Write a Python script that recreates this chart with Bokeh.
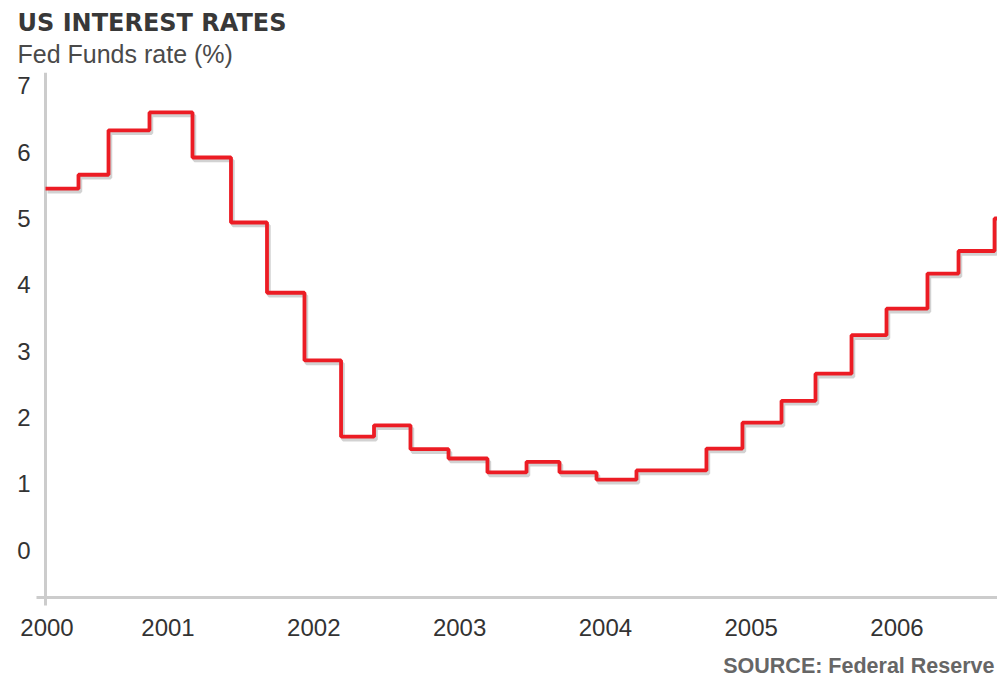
from bokeh.plotting import figure
from bokeh.models import Title, Range1d
from bokeh.core.properties import value
from bokeh.embed import file_html
from bokeh.resources import INLINE

# ---- data ----
title = "US INTEREST RATES"
subtitle = "Fed Funds rate (%)"
source = "SOURCE: Federal Reserve"

# start of each rate step, in fractional years
step_start = [2000.160, 2000.386, 2000.592, 2000.873, 2001.168, 2001.432, 2001.679,
              2001.936, 2002.187, 2002.413, 2002.663, 2002.924, 2003.191, 2003.459,
              2003.685, 2003.939, 2004.213, 2004.693, 2004.940, 2005.208, 2005.441,
              2005.688, 2005.928, 2006.209, 2006.422, 2006.669, 2006.689]
# Fed funds rate (%) holding from each step start
rate = [5.45, 5.66, 6.33, 6.60, 5.92, 4.94, 3.88, 2.86, 1.71, 1.88, 1.52, 1.38, 1.17,
        1.33, 1.17, 1.06, 1.20, 1.53, 1.92, 2.25, 2.66, 3.24, 3.64, 4.17, 4.51, 5.00, 5.00]

y_ticks = [0, 1, 2, 3, 4, 5, 6, 7]
y_tick_labels = ["0", "1", "2", "3", "4", "5", "6", "7"]
x_tick_years = [2000.17, 2001, 2002, 2003, 2004, 2005, 2006]
x_tick_labels = ["2000", "2001", "2002", "2003", "2004", "2005", "2006"]

# ---- layout helpers: screen pixel -> data coordinate (styling only) ----
PX_PER_YEAR, X0_PX = 145.8, 21.7
PX_PER_PCT, Y0_PX = 66.3, 549.5
def xd(px):
    return 2000 + (px - X0_PX) / PX_PER_YEAR
def yd(py):
    return (Y0_PX - py) / PX_PER_PCT

W, H, TOP = 997, 674, 72
p = figure(width=W, height=H, output_backend="svg", toolbar_location=None,
           x_range=Range1d(xd(0), xd(W)), y_range=Range1d(yd(H), yd(TOP)),
           x_axis_location=None, y_axis_location=None,
           min_border_left=0, min_border_right=0, min_border_top=TOP, min_border_bottom=0)
p.background_fill_color = "white"
p.border_fill_color = "white"
p.outline_line_color = None
p.xgrid.visible = False
p.ygrid.visible = False

axis_col = "#cccccc"
# y axis line (from just below the x axis to the top)
p.segment(x0=[xd(45)], y0=[yd(605)], x1=[xd(45)], y1=[yd(TOP)], line_color=axis_col, line_width=3)
# x axis line
p.segment(x0=[xd(36)], y0=[yd(597)], x1=[xd(W)], y1=[yd(597)], line_color=axis_col, line_width=3)

# shadow and line
dx, dy = 2 / PX_PER_YEAR, -3 / PX_PER_PCT
p.step([v + dx for v in step_start], [v + dy for v in rate], mode="after",
       line_color="#cdcdcd", line_width=3.5, line_alpha=0.9)
p.step(step_start, rate, mode="after", line_color="#ec1c24", line_width=3.8)

# tick labels
p.text(x=[xd(30)] * len(y_ticks), y=y_ticks, text=y_tick_labels,
       text_align="right", text_baseline="middle",
       text_font=value("Liberation Sans"), text_font_size="24px", text_color="#333333")
p.text(x=x_tick_years, y=[yd(627)] * len(x_tick_years), text=x_tick_labels,
       text_align="center", text_baseline="middle",
       text_font=value("Liberation Sans"), text_font_size="24px", text_color="#333333")

# source note
p.text(x=[xd(W - 3)], y=[yd(665.5)], text=[source], text_align="right", text_baseline="middle",
       text_font=value("Liberation Sans"), text_font_style="bold",
       text_font_size="21.5px", text_color="#666666")

p.add_layout(Title(text=subtitle, align="left", offset=17, standoff=9,
                   text_font="Liberation Sans", text_font_style="normal",
                   text_font_size="25px", text_color="#4a4a4a"), "above")
p.add_layout(Title(text=title, align="left", offset=17, standoff=-6,
                   text_font="DejaVu Sans", text_font_style="bold",
                   text_font_size="24px", text_color="#383838"), "above")

open("out.html", "w").write(file_html(p, INLINE))
